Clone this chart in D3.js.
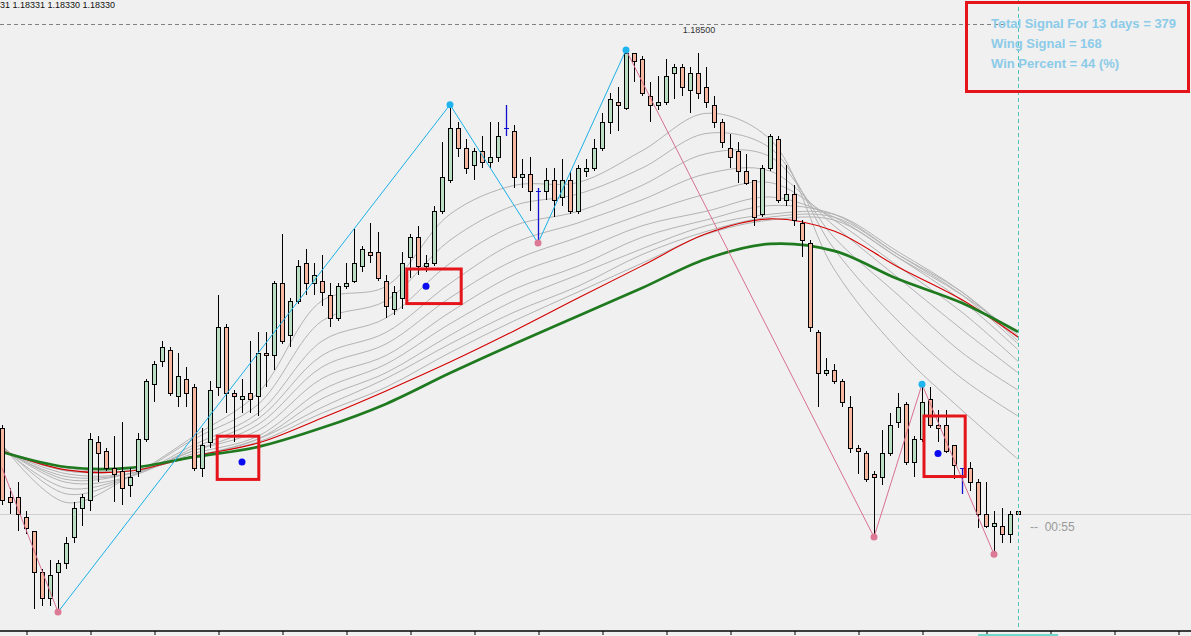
<!DOCTYPE html>
<html><head><meta charset="utf-8">
<script src="https://cdn.jsdelivr.net/npm/d3@7"></script>
<style>html,body{margin:0;padding:0;background:#f0f0f0;overflow:hidden}svg{display:block}</style>
</head><body><svg id="c" width="1191" height="636"></svg>
<script>
const opens = [1.18360,1.18336,1.18336,1.18329,1.18324,1.18310,1.18301,1.18310,1.18313,1.18322,1.18332,1.18335,1.18355,1.18352,1.18346,1.18345,1.18340,1.18345,1.18356,1.18375,1.18383,1.18387,1.18371,1.18377,1.18374,1.18346,1.18355,1.18374,1.18395,1.18372,1.18370,1.18372,1.18371,1.18386,1.18385,1.18410,1.18392,1.18404,1.18417,1.18410,1.18411,1.18406,1.18398,1.18409,1.18411,1.18416,1.18421,1.18421,1.18411,1.18401,1.18405,1.18419,1.18426,1.18416,1.18417,1.18435,1.18446,1.18464,1.18457,1.18451,1.18456,1.18452,1.18454,1.18464,1.18463,1.18447,1.18448,1.18442,1.18442,1.18446,1.18440,1.18446,1.18435,1.18449,1.18450,1.18457,1.18466,1.18473,1.18471,1.18490,1.18488,1.18475,1.18472,1.18473,1.18483,1.18485,1.18477,1.18483,1.18478,1.18472,1.18466,1.18457,1.18456,1.18449,1.18446,1.18434,1.18450,1.18460,1.18439,1.18441,1.18431,1.18424,1.18393,1.18379,1.18380,1.18376,1.18367,1.18353,1.18351,1.18344,1.18343,1.18351,1.18362,1.18368,1.18348,1.18356,1.18370,1.18361,1.18361,1.18354,1.18346,1.18346,1.18341,1.18330,1.18326,1.18326,1.18323,1.18331];
const highs = [1.18361,1.18339,1.18341,1.18331,1.18324,1.18311,1.18314,1.18314,1.18322,1.18334,1.18337,1.18358,1.18357,1.18353,1.18357,1.18362,1.18346,1.18358,1.18377,1.18383,1.18390,1.18388,1.18386,1.18381,1.18375,1.18360,1.18376,1.18406,1.18396,1.18373,1.18377,1.18390,1.18393,1.18393,1.18411,1.18427,1.18405,1.18418,1.18422,1.18417,1.18420,1.18410,1.18410,1.18417,1.18429,1.18423,1.18431,1.18428,1.18413,1.18409,1.18421,1.18427,1.18430,1.18420,1.18437,1.18459,1.18472,1.18466,1.18460,1.18457,1.18461,1.18466,1.18466,1.18472,1.18465,1.18453,1.18454,1.18443,1.18450,1.18450,1.18453,1.18449,1.18451,1.18453,1.18460,1.18469,1.18476,1.18478,1.18491,1.18490,1.18489,1.18480,1.18482,1.18488,1.18486,1.18486,1.18485,1.18490,1.18485,1.18475,1.18467,1.18462,1.18459,1.18455,1.18446,1.18451,1.18462,1.18461,1.18451,1.18444,1.18432,1.18425,1.18394,1.18384,1.18382,1.18377,1.18371,1.18354,1.18352,1.18345,1.18359,1.18365,1.18372,1.18369,1.18357,1.18375,1.18374,1.18366,1.18366,1.18354,1.18346,1.18348,1.18342,1.18341,1.18331,1.18332,1.18331,1.18331];
const lows = [1.18333,1.18330,1.18324,1.18323,1.18297,1.18298,1.18298,1.18296,1.18311,1.18320,1.18326,1.18331,1.18341,1.18345,1.18334,1.18333,1.18336,1.18343,1.18355,1.18369,1.18381,1.18371,1.18367,1.18367,1.18345,1.18343,1.18353,1.18371,1.18365,1.18355,1.18365,1.18365,1.18364,1.18374,1.18380,1.18389,1.18388,1.18403,1.18406,1.18406,1.18402,1.18395,1.18397,1.18408,1.18410,1.18414,1.18417,1.18411,1.18398,1.18399,1.18401,1.18412,1.18413,1.18414,1.18416,1.18434,1.18445,1.18454,1.18448,1.18446,1.18450,1.18450,1.18452,1.18461,1.18443,1.18443,1.18435,1.18424,1.18439,1.18433,1.18437,1.18434,1.18434,1.18447,1.18449,1.18456,1.18462,1.18463,1.18470,1.18480,1.18475,1.18466,1.18470,1.18472,1.18474,1.18475,1.18469,1.18474,1.18471,1.18464,1.18457,1.18450,1.18445,1.18444,1.18430,1.18433,1.18449,1.18438,1.18437,1.18430,1.18419,1.18393,1.18367,1.18378,1.18375,1.18367,1.18351,1.18344,1.18341,1.18322,1.18340,1.18350,1.18360,1.18347,1.18343,1.18355,1.18360,1.18355,1.18351,1.18342,1.18337,1.18338,1.18325,1.18325,1.18316,1.18320,1.18320,1.18330];
const closes = [1.18335,1.18334,1.18330,1.18325,1.18310,1.18301,1.18309,1.18313,1.18320,1.18332,1.18336,1.18356,1.18351,1.18346,1.18344,1.18339,1.18343,1.18356,1.18376,1.18382,1.18388,1.18372,1.18378,1.18372,1.18346,1.18354,1.18373,1.18395,1.18372,1.18371,1.18371,1.18370,1.18386,1.18385,1.18410,1.18390,1.18404,1.18416,1.18410,1.18413,1.18407,1.18398,1.18409,1.18410,1.18417,1.18422,1.18420,1.18412,1.18402,1.18407,1.18417,1.18426,1.18416,1.18417,1.18435,1.18447,1.18464,1.18457,1.18450,1.18456,1.18452,1.18454,1.18461,1.18464,1.18447,1.18448,1.18442,1.18442,1.18446,1.18439,1.18446,1.18435,1.18450,1.18450,1.18457,1.18466,1.18474,1.18472,1.18490,1.18487,1.18476,1.18472,1.18473,1.18482,1.18485,1.18478,1.18483,1.18476,1.18473,1.18466,1.18459,1.18454,1.18449,1.18445,1.18433,1.18450,1.18461,1.18439,1.18441,1.18432,1.18425,1.18395,1.18379,1.18380,1.18376,1.18369,1.18353,1.18352,1.18342,1.18343,1.18351,1.18361,1.18367,1.18348,1.18356,1.18369,1.18361,1.18360,1.18352,1.18347,1.18346,1.18341,1.18330,1.18326,1.18327,1.18323,1.18330,1.18330];
const markerBars = [63, 67, 120];

// moving-average ribbon, sampled every 8 bars
const maIdx = [0,8,16,24,32,40,48,56,64,72,80,88,96,104,112,120,127];
const greenMA = [1.183515,1.183463,1.183460,1.183498,1.183533,1.183599,1.183682,1.183789,1.183890,1.183987,1.184084,1.184185,1.184237,1.184213,1.184115,1.184032,1.183932];
const redMA = [1.183519,1.183453,1.183449,1.183501,1.183546,1.183633,1.183727,1.183827,1.183935,1.184049,1.184161,1.184272,1.184324,1.184282,1.184157,1.184043,1.183914];
const grey1 = [1.18354,1.18334,1.18343,1.18357,1.18372,1.18404,1.18409,1.18434,1.18444,1.18445,1.18456,1.18469,1.18460,1.18415,1.18387,1.18366,1.18349];
const grey2 = [1.18354,1.18337,1.18343,1.18356,1.18368,1.18397,1.18404,1.18425,1.18437,1.18441,1.18450,1.18462,1.18457,1.18422,1.18397,1.18377,1.18364];
const grey3 = [1.18353,1.18339,1.18343,1.18354,1.18365,1.18390,1.18398,1.18417,1.18430,1.18435,1.18444,1.18455,1.18454,1.18426,1.18406,1.18386,1.18373];
const grey4 = [1.18353,1.18341,1.18343,1.18353,1.18363,1.18385,1.18393,1.18410,1.18424,1.18431,1.18439,1.18448,1.18449,1.18430,1.18412,1.18394,1.18379];
const grey5 = [1.18353,1.18342,1.18344,1.18352,1.18361,1.18381,1.18389,1.18405,1.18418,1.18426,1.18434,1.18441,1.18445,1.18432,1.18416,1.18400,1.18383];
const grey6 = [1.18352,1.18343,1.18344,1.18352,1.18359,1.18377,1.18385,1.18400,1.18413,1.18421,1.18430,1.18435,1.18440,1.18433,1.18419,1.18404,1.18387];
const grey7 = [1.18352,1.18344,1.18344,1.18351,1.18357,1.18373,1.18382,1.18396,1.18408,1.18416,1.18426,1.18432,1.18437,1.18434,1.18420,1.18406,1.18389];
const grey8 = [1.18352,1.18345,1.18345,1.18350,1.18356,1.18370,1.18379,1.18392,1.18404,1.18413,1.18422,1.18430,1.18434,1.18434,1.18421,1.18407,1.18390];
const grey9 = [1.18352,1.18345,1.18345,1.18350,1.18356,1.18367,1.18377,1.18389,1.18400,1.18409,1.18420,1.18428,1.18433,1.18433,1.18420,1.18407,1.18391];
const grey10 = [1.18352,1.18346,1.18345,1.18350,1.18355,1.18365,1.18374,1.18386,1.18397,1.18407,1.18417,1.18427,1.18432,1.18432,1.18419,1.18406,1.18392];

// zigzag pivots
const pivotIdx = [0, 7, 56, 67, 78, 109, 115, 124];
const pivotPrice = [1.18346, 1.18296, 1.18472, 1.18424, 1.18491, 1.18322, 1.18375, 1.18316];
const pivotKind = ["start","low","high","low","high","low","high","low"];
const segColor = ["pink","cyan","cyan","cyan","pink","pink","pink"];

// signals
const signalIdx = [30, 53, 117];
const signalPrice = [1.18348, 1.18409, 1.18351];
const boxStart = [26.9, 50.6, 115.25];
const boxEnd = [32.1, 57.4, 120.4];
const boxTop = [1.18357, 1.18415, 1.18364];
const boxBottom = [1.18342, 1.18403, 1.18343];

const tickIdx = d3.range(3, 150, 8);
const levelPrice = 1.18500;
const levelLabel = "1.18500";
const lastPrice = 1.18330;
const ohlcText = "31 1.18331 1.18330 1.18330";
const timerText = "--  00:55";
const statLines = ["Total Signal For 13 days = 379", "Wing Signal = 168", "Win Percent = 44 (%)"];

const W = 1191, H = 636;
const svg = d3.select("#c");
svg.append("rect").attr("width", W).attr("height", H).attr("fill", "#f0f0f0");

const x = d3.scaleLinear().domain([0, 127]).range([2, 1018]);
const y = d3.scaleLinear().domain([1.18500, 1.18330]).range([24, 514]);
const px = v => Math.round(x(v));
const py = v => Math.round(y(v));

// price line and level line
svg.append("line").attr("x1", 0).attr("x2", W).attr("y1", py(lastPrice) + 0.5).attr("y2", py(lastPrice) + 0.5)
  .attr("stroke", "#cfcfcf").attr("stroke-width", 1);
svg.append("line").attr("x1", 0).attr("x2", 1004).attr("y1", py(levelPrice) + 0.5).attr("y2", py(levelPrice) + 0.5)
  .attr("stroke", "#808080").attr("stroke-width", 1).attr("stroke-dasharray", "4,3");
svg.append("text").attr("x", 699).attr("y", py(levelPrice) + 9).attr("text-anchor", "middle")
  .attr("font-family", "Liberation Sans, Arial, sans-serif").attr("font-size", 9).attr("fill", "#333").text(levelLabel);

// MAs
const line = d3.line().x((d, i) => x(maIdx[i])).y(d => y(d)).curve(d3.curveCatmullRom.alpha(0.5));
const greys = [grey1, grey2, grey3, grey4, grey5, grey6, grey7, grey8, grey9, grey10];
greys.forEach(g => svg.append("path").attr("d", line(g)).attr("fill", "none").attr("stroke", "#b3b3b3").attr("stroke-width", 1));
svg.append("path").attr("d", line(redMA)).attr("fill", "none").attr("stroke", "#d40000").attr("stroke-width", 1.1);
svg.append("path").attr("d", line(greenMA)).attr("fill", "none").attr("stroke", "#1f7a1f").attr("stroke-width", 2.7);

// candles
const idx = d3.range(opens.length);
const cg = svg.append("g");
idx.forEach(i => {
  const xc = px(i);
  const isMarker = markerBars.includes(i);
  if (isMarker) {
    cg.append("line").attr("x1", xc + 0.5).attr("x2", xc + 0.5).attr("y1", py(highs[i])).attr("y2", py(lows[i]))
      .attr("stroke", "#1010d0").attr("stroke-width", 1.3);
    cg.append("line").attr("x1", xc - 2).attr("x2", xc + 3).attr("y1", py(opens[i]) + 0.5).attr("y2", py(opens[i]) + 0.5)
      .attr("stroke", "#1010d0").attr("stroke-width", 1);
    return;
  }
  cg.append("line").attr("x1", xc + 0.5).attr("x2", xc + 0.5).attr("y1", py(highs[i])).attr("y2", py(lows[i]))
    .attr("stroke", "#000").attr("stroke-width", 1);
  const top = py(Math.max(opens[i], closes[i]));
  const bot = py(Math.min(opens[i], closes[i]));
  const h = Math.max(2, bot - top);
  const bull = closes[i] > opens[i];
  cg.append("rect").attr("x", xc - 1.5).attr("y", top + 0.5).attr("width", 4).attr("height", h)
    .attr("fill", bull ? "#b7dec3" : "#f5b7a0").attr("stroke", "#000").attr("stroke-width", 1);
});

// zigzag
const colors = {pink: "#d8708e", cyan: "#1cb0e6"};
for (let k = 0; k < pivotIdx.length - 1; k++) {
  svg.append("line").attr("x1", x(pivotIdx[k])).attr("y1", y(pivotPrice[k]))
    .attr("x2", x(pivotIdx[k + 1])).attr("y2", y(pivotPrice[k + 1]))
    .attr("stroke", colors[segColor[k]]).attr("stroke-width", 1);
}
pivotIdx.forEach((p, k) => {
  if (pivotKind[k] === "start") return;
  svg.append("circle").attr("cx", x(p)).attr("cy", y(pivotPrice[k])).attr("r", 3.5)
    .attr("fill", pivotKind[k] === "high" ? "#20b4ee" : "#dc7a96");
});

// signals
signalIdx.forEach((s, k) => {
  svg.append("circle").attr("cx", x(s)).attr("cy", y(signalPrice[k])).attr("r", 3.5).attr("fill", "#0a0af0");
  svg.append("rect").attr("x", x(boxStart[k])).attr("y", y(boxTop[k]))
    .attr("width", x(boxEnd[k]) - x(boxStart[k])).attr("height", y(boxBottom[k]) - y(boxTop[k]))
    .attr("fill", "none").attr("stroke", "#e5141b").attr("stroke-width", 3);
});

// current bar vertical marker
svg.append("line").attr("x1", px(127) + 0.5).attr("x2", px(127) + 0.5).attr("y1", 0).attr("y2", 630)
  .attr("stroke", "#4ec4b8").attr("stroke-width", 1).attr("stroke-dasharray", "4,3");

// axis
const axis = d3.axisBottom(x).tickValues(tickIdx).tickFormat("").tickSize(4).tickSizeOuter(0);
const ag = svg.append("g").attr("transform", "translate(0.5,631)").call(axis);
ag.select(".domain").remove();
ag.selectAll(".tick line").attr("stroke", "#000");
svg.append("line").attr("x1", 0).attr("x2", W).attr("y1", 631).attr("y2", 631).attr("stroke", "#000").attr("stroke-width", 1.5);
svg.append("rect").attr("x", 978).attr("y", 634).attr("width", 80).attr("height", 2).attr("fill", "#72d8cc");

// texts
svg.append("text").attr("x", 0).attr("y", 8).attr("font-family", "Liberation Sans, Arial, sans-serif")
  .attr("font-size", 9).attr("fill", "#111").text(ohlcText);
svg.append("text").attr("x", 1030).attr("y", 531).attr("font-family", "Liberation Sans, Arial, sans-serif")
  .attr("font-size", 12).attr("fill", "#9a9a9a").attr("xml:space", "preserve").style("white-space", "pre").text(timerText);

// stats box
svg.append("rect").attr("x", 966.5).attr("y", 2.5).attr("width", 222).attr("height", 89)
  .attr("fill", "none").attr("stroke", "#e5141b").attr("stroke-width", 3);
statLines.forEach((t, k) => {
  svg.append("text").attr("x", 991).attr("y", 28 + 20 * k).attr("font-family", "Liberation Sans, Arial, sans-serif")
    .attr("font-size", 13).attr("font-weight", "bold").attr("fill", "#8ccbe8").text(t);
});
</script></body></html>
